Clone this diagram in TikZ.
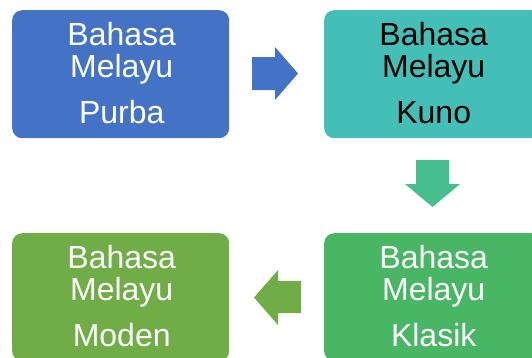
\documentclass[tikz,border=0pt]{standalone}
\usepackage{fontspec}
\setmainfont{Liberation Sans}
\usetikzlibrary{calc}
\definecolor{cblue}{HTML}{4472C4}
\definecolor{cteal}{HTML}{44BFB8}
\definecolor{cmint}{HTML}{46BE8E}
\definecolor{cgreen}{HTML}{48B664}
\definecolor{colive}{HTML}{70AD47}
\begin{document}
\begin{tikzpicture}[x=1pt,y=-1pt,
  box/.style={draw=none,rounded corners=10pt,minimum width=217pt,minimum height=128pt,inner sep=0pt,anchor=north west},
  lbl/.style={anchor=north,inner sep=0pt,align=center,font=\fontsize{32}{32}\selectfont}]
\useasboundingbox (0,0) rectangle (532,357);
\clip (0,0) rectangle (532,357);
\node[box,fill=cblue] (b1) at (12,10) {};
\node[box,fill=cteal] (b2) at (324,10) {};
\node[box,fill=cgreen] (b4) at (324,233) {};
\node[box,fill=colive] (b3) at (12,233) {};
\node[lbl,text=white] (t1) at ($(b1.north)+(1,12)$) {Bahasa\\Melayu\\[14pt]Purba};
\node[lbl,text=black] (t2) at ($(b2.north)+(1,12)$) {Bahasa\\Melayu\\[14pt]Kuno};
\node[lbl,text=white] (t4) at ($(b4.north)+(1,12)$) {Bahasa\\Melayu\\[14pt]Klasik};
\node[lbl,text=white] (t3) at ($(b3.north)+(1,12)$) {Bahasa\\Melayu\\[14pt]Moden};
% arrows
\fill[cblue] (252,57) -- (275,57) -- (275,47) -- (298,73.5) -- (275,100) -- (275,90) -- (252,90) -- cycle;
\fill[cmint] (416,160) -- (449,160) -- (449,184) -- (460,184) -- (432.5,207) -- (405,184) -- (416,184) -- cycle;
\fill[colive] (301,281) -- (278,281) -- (278,270) -- (254,297.5) -- (278,325) -- (278,313) -- (301,313) -- cycle;
\end{tikzpicture}
\end{document}
